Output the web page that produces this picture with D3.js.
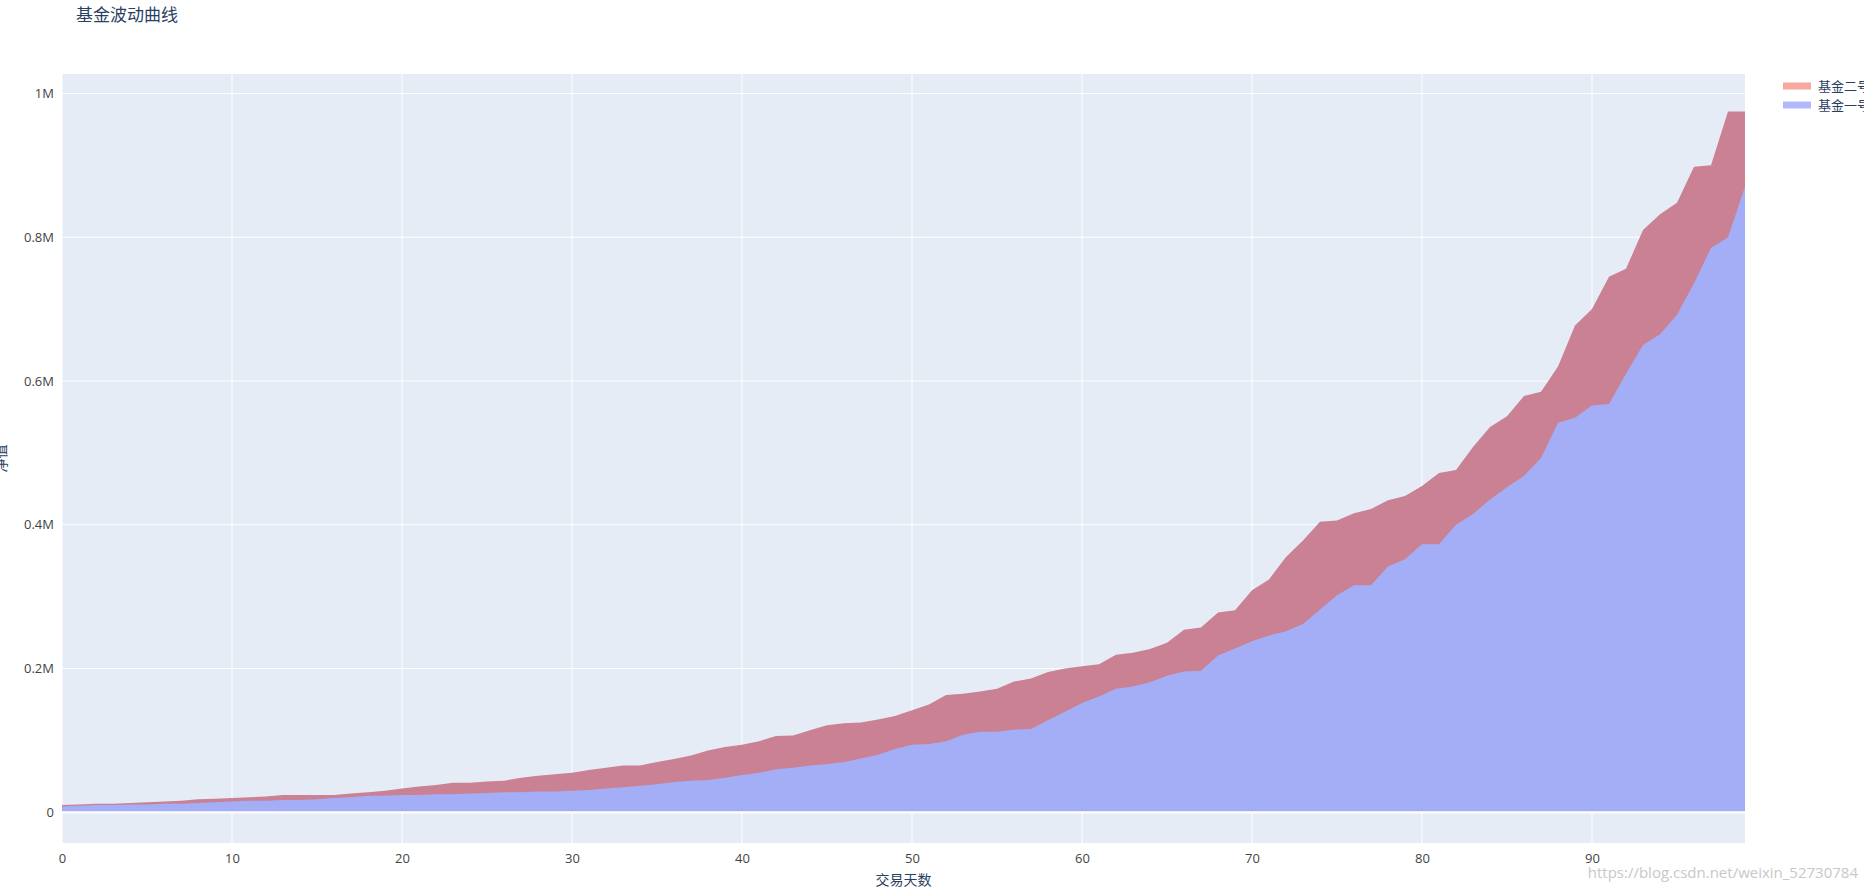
<!DOCTYPE html><html><head><meta charset="utf-8"><script src="https://cdn.jsdelivr.net/npm/d3@7"></script>
<style>body{margin:0;background:#fff;font-family:"Open Sans","Noto Sans CJK SC",sans-serif}</style></head><body><svg id="c" width="1864" height="892"></svg>
<script>
const days = d3.range(0,100);
const fund2 = [0.010,0.011,0.012,0.012,0.013,0.014,0.015,0.016,0.018,0.019,0.020,0.021,0.022,0.024,0.024,0.024,0.024,0.026,0.028,0.030,0.033,0.036,0.038,0.041,0.041,0.043,0.044,0.048,0.051,0.053,0.055,0.059,0.062,0.065,0.065,0.070,0.074,0.079,0.086,0.091,0.094,0.099,0.106,0.107,0.114,0.121,0.124,0.125,0.129,0.134,0.142,0.150,0.163,0.165,0.168,0.172,0.182,0.186,0.195,0.200,0.203,0.206,0.219,0.222,0.227,0.236,0.254,0.257,0.278,0.281,0.309,0.324,0.355,0.378,0.404,0.406,0.416,0.422,0.434,0.440,0.454,0.472,0.476,0.508,0.536,0.551,0.579,0.585,0.620,0.677,0.700,0.745,0.756,0.810,0.832,0.848,0.898,0.900,0.975,0.975].map(v=>v*1e6);
const fund1 = [0.008,0.009,0.010,0.010,0.011,0.011,0.012,0.012,0.013,0.014,0.015,0.016,0.016,0.017,0.017,0.018,0.020,0.021,0.023,0.023,0.024,0.024,0.025,0.025,0.026,0.027,0.028,0.028,0.029,0.029,0.030,0.031,0.033,0.035,0.037,0.039,0.042,0.044,0.045,0.048,0.052,0.055,0.060,0.062,0.065,0.067,0.070,0.075,0.080,0.088,0.094,0.095,0.099,0.108,0.112,0.112,0.115,0.116,0.128,0.140,0.152,0.161,0.172,0.175,0.181,0.190,0.196,0.197,0.218,0.228,0.238,0.246,0.252,0.262,0.282,0.302,0.316,0.316,0.342,0.352,0.373,0.373,0.400,0.415,0.435,0.452,0.468,0.493,0.542,0.549,0.566,0.568,0.610,0.650,0.665,0.692,0.736,0.785,0.800,0.870].map(v=>v*1e6);
const yTicks=[0,0.2e6,0.4e6,0.6e6,0.8e6,1e6];
const yLabels=["0","0.2M","0.4M","0.6M","0.8M","1M"];
const xTicks=[0,10,20,30,40,50,60,70,80,90];

const svg=d3.select("#c");
const L=62,R=1745,T=74,B=843;
const x=d3.scaleLinear().domain([0,99]).range([L,R]);
const y=d3.scaleLinear().domain([-0.0427e6,1.027e6]).range([B,T]);
svg.append("rect").attr("x",L).attr("y",T).attr("width",R-L).attr("height",B-T).attr("fill","#E5ECF6");
const g=svg.append("g");
xTicks.forEach(t=>g.append("line").attr("x1",x(t)).attr("x2",x(t)).attr("y1",T).attr("y2",B).attr("stroke","#fff"));
yTicks.forEach(t=>g.append("line").attr("x1",L).attr("x2",R).attr("y1",y(t)).attr("y2",y(t)).attr("stroke","#fff").attr("stroke-width",t===0?2:1));
const area=(arr)=>d3.area().x((d,i)=>x(days[i])).y0(y(0)).y1(d=>y(d))(arr);
svg.append("path").attr("d",area(fund2)).attr("fill","#C98193");
svg.append("path").attr("d",area(fund1)).attr("fill","#A4AEF6");
svg.append("line").attr("x1",L).attr("x2",R).attr("y1",y(0)).attr("y2",y(0)).attr("stroke","#fff").attr("stroke-width",2);
const tc="#2a3f5f";
const xa=svg.append("g").attr("transform",`translate(0,${B})`).call(d3.axisBottom(x).tickValues(xTicks).tickSize(0).tickPadding(11));
const ya=svg.append("g").attr("transform",`translate(${L},0)`).call(d3.axisLeft(y).tickValues(yTicks).tickFormat((d,i)=>yLabels[i]).tickSize(0).tickPadding(8));
[xa,ya].forEach(a=>{a.select(".domain").remove();a.selectAll("text").attr("fill","#444").style("font-size","13px").style("font-family","'Open Sans',sans-serif");});
svg.append("text").attr("x",76).attr("y",21).text("基金波动曲线").attr("fill",tc).style("font-size","17px").style("font-family","'Noto Sans CJK SC'");
svg.append("text").attr("x",(L+R)/2).attr("y",885).attr("text-anchor","middle").text("交易天数").attr("fill",tc).style("font-size","14px").style("font-family","'Noto Sans CJK SC'");
svg.append("text").attr("transform",`translate(6,${(T+B)/2}) rotate(-90)`).attr("text-anchor","middle").text("净值").attr("fill",tc).style("font-size","14px").style("font-family","'Noto Sans CJK SC'");
const leg=[["基金二号","#F8A99F"],["基金一号","#B3B8FA"]];
leg.forEach((l,i)=>{const yy=86+i*19;
 svg.append("line").attr("x1",1783).attr("x2",1811).attr("y1",yy).attr("y2",yy).attr("stroke",l[1]).attr("stroke-width",7);
 svg.append("text").attr("x",1818).attr("y",yy+5).text(l[0]).attr("fill",tc).style("font-size","13px").style("font-family","'Noto Sans CJK SC'");});
svg.append("text").attr("x",1858).attr("y",878).attr("text-anchor","end").text("https://blog.csdn.net/weixin_52730784").attr("fill","#c8c8c8").style("font-size","15px");
</script></body></html>
